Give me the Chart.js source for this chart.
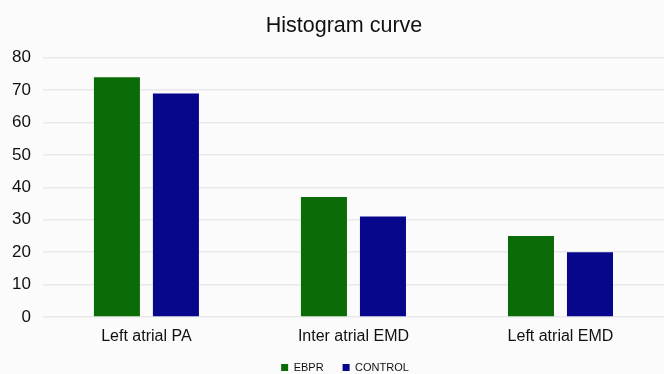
<!DOCTYPE html>
<html>
<head>
<meta charset="utf-8">
<script src="https://cdn.jsdelivr.net/npm/chart.js@4"></script>
<style>
  html, body { margin: 0; padding: 0; background: #fbfbfb; }
  #wrap { width: 664px; height: 374px; }
</style>
</head>
<body>
<div id="wrap"><canvas id="c" width="664" height="374"></canvas></div>
<script>
const categories = ['Left atrial PA', 'Inter atrial EMD', 'Left atrial EMD'];
const ebprValues = [74, 37, 25];
const controlValues = [69, 31, 20];
const yTicks = [0, 10, 20, 30, 40, 50, 60, 70, 80];

const font = "'Liberation Sans', Arial, Helvetica, sans-serif";

// Centre the title and legend over the plot area rather than the whole canvas.
const blockOffset = {
  id: 'blockOffset',
  afterLayout(chart) {
    const lg = chart.legend;
    if (lg) { lg.left += 13; lg.right += 13; }
    const tb = chart.titleBlock;
    if (tb) { tb.left += 12; tb.right += 12; }
  }
};

new Chart(document.getElementById('c'), {
  type: 'bar',
  data: {
    labels: categories,
    datasets: [
      { label: 'EBPR', data: ebprValues, backgroundColor: '#0b6b06', borderColor: '#0b6b06' },
      { label: 'CONTROL', data: controlValues, backgroundColor: '#06078a', borderColor: '#06078a' }
    ]
  },
  plugins: [blockOffset],
  options: {
    responsive: false,
    animation: false,
    devicePixelRatio: 1,
    categoryPercentage: 0.57,
    barPercentage: 0.78,
    layout: { padding: { left: 0, right: 0, top: 9, bottom: -9 } },
    plugins: {
      title: {
        display: true,
        text: 'Histogram curve',
        color: '#111',
        font: { family: font, size: 21.5, weight: 'normal' },
        padding: { top: 4, bottom: 19 }
      },
      legend: {
        position: 'bottom',
        labels: {
          color: '#111',
          font: { family: font, size: 11 },
          boxWidth: 7,
          boxHeight: 7,
          padding: 19
        }
      },
      tooltip: { enabled: false }
    },
    scales: {
      x: {
        grid: { display: false, drawTicks: false },
        border: { display: false },
        ticks: { color: '#111', font: { family: font, size: 16 }, padding: 10 },
        afterFit: (scale) => { scale.height = 26; }
      },
      y: {
        min: 0,
        max: 80,
        afterBuildTicks: (axis) => { axis.ticks = yTicks.map(v => ({ value: v })); },
        grid: { color: '#e9e9e9', lineWidth: 1.5, drawTicks: false },
        border: { display: false },
        ticks: { color: '#111', font: { family: font, size: 17 }, padding: 12 }
      }
    }
  }
});
</script>
</body>
</html>
